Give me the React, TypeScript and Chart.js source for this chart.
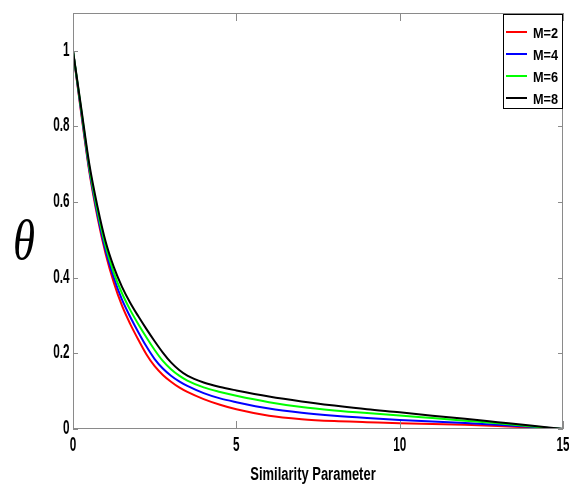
import React, { useEffect, useRef } from "react";
import { Chart, registerables } from "chart.js";

Chart.register(...registerables);

const X_VALUES = [0, 0.25, 0.5, 0.75, 1, 1.25, 1.5, 1.75, 2, 2.25, 2.5, 2.75, 3, 3.25, 3.5, 4, 4.5, 5, 6, 7, 8, 9, 10, 11, 12, 13, 14, 15];
const M2 = [1, 0.835, 0.68, 0.56, 0.463, 0.387, 0.326, 0.278, 0.236, 0.197, 0.166, 0.143, 0.125, 0.11, 0.098, 0.079, 0.064, 0.052, 0.035, 0.026, 0.021, 0.018, 0.015, 0.013, 0.011, 0.008, 0.004, 0];
const M4 = [1, 0.84, 0.685, 0.567, 0.472, 0.4, 0.342, 0.297, 0.256, 0.218, 0.185, 0.16, 0.141, 0.126, 0.114, 0.095, 0.081, 0.071, 0.054, 0.043, 0.035, 0.029, 0.024, 0.02, 0.016, 0.011, 0.006, 0];
const M6 = [1, 0.845, 0.692, 0.577, 0.483, 0.413, 0.359, 0.315, 0.277, 0.242, 0.209, 0.18, 0.158, 0.141, 0.128, 0.11, 0.098, 0.088, 0.071, 0.058, 0.049, 0.042, 0.036, 0.029, 0.022, 0.015, 0.007, 0];
const M8 = [1, 0.85, 0.7, 0.588, 0.495, 0.428, 0.376, 0.334, 0.298, 0.264, 0.232, 0.202, 0.176, 0.156, 0.141, 0.123, 0.111, 0.102, 0.086, 0.073, 0.062, 0.052, 0.044, 0.035, 0.027, 0.018, 0.009, 0];

const SERIES_LABELS = ["M=2", "M=4", "M=6", "M=8"];
const SERIES_COLORS = ["#ff0000", "#0000ff", "#00ff00", "#000000"];
const X_TICKS = [0, 5, 10, 15];
const Y_TICKS = [0, 0.2, 0.4, 0.6, 0.8, 1];
const X_TITLE = "Similarity Parameter";
const Y_TITLE = "θ";

const W = 569;
const H = 486;

const fmt = (v: number) => String(Number(v.toFixed(1)));

const decorPlugin = {
  id: "decor",
  afterDraw(chart: any) {
    const ctx: CanvasRenderingContext2D = chart.ctx;
    const { left, right, top, bottom } = chart.chartArea;
    const xs = chart.scales.x;
    const ys = chart.scales.y;
    ctx.save();
    // frame
    ctx.strokeStyle = "#8a8a8a";
    ctx.lineWidth = 1;
    ctx.strokeRect(left + 0.5, top + 0.5, right - left - 1, bottom - top - 1);
    // inside ticks
    ctx.beginPath();
    xs.ticks.forEach((t: any) => {
      const px = Math.round(xs.getPixelForValue(t.value)) + 0.5;
      ctx.moveTo(px, bottom);
      ctx.lineTo(px, bottom - 8);
      ctx.moveTo(px, top);
      ctx.lineTo(px, top + 8);
    });
    ys.ticks.forEach((t: any) => {
      const py = Math.round(ys.getPixelForValue(t.value)) + 0.5;
      ctx.moveTo(left, py);
      ctx.lineTo(left + 5, py);
      ctx.moveTo(right, py);
      ctx.lineTo(right - 5, py);
    });
    ctx.stroke();

    // tick labels (condensed bold)
    ctx.fillStyle = "#000";
    ctx.font = "bold 21px 'Liberation Sans', Arial, sans-serif";
    const sx = 0.56;
    ys.ticks.forEach((t: any) => {
      const py = ys.getPixelForValue(t.value);
      ctx.save();
      ctx.translate(69.5, py - 1);
      ctx.scale(sx, 1);
      ctx.textAlign = "right";
      ctx.textBaseline = "middle";
      ctx.fillText(fmt(t.value), 0, 0);
      ctx.restore();
    });
    xs.ticks.forEach((t: any) => {
      const px = xs.getPixelForValue(t.value);
      ctx.save();
      ctx.translate(px, 445);
      ctx.scale(sx, 1);
      ctx.textAlign = "center";
      ctx.textBaseline = "middle";
      ctx.fillText(fmt(t.value), 0, 0);
      ctx.restore();
    });

    // x title
    ctx.save();
    ctx.font = "bold 18px 'Liberation Sans', Arial, sans-serif";
    ctx.translate((left + right) / 2 - 5, 480);
    ctx.scale(0.72, 1);
    ctx.textAlign = "center";
    ctx.textBaseline = "alphabetic";
    ctx.fillText(X_TITLE, 0, 0);
    ctx.restore();

    // y title
    ctx.save();
    ctx.font = "italic 56px 'Liberation Serif', 'Times New Roman', serif";
    ctx.translate(24, 259);
    ctx.scale(0.8, 1);
    ctx.textAlign = "center";
    ctx.textBaseline = "alphabetic";
    ctx.fillText(Y_TITLE, 0, 0);
    ctx.restore();

    // legend
    const bx = 503, by = 14, bw = right - 503, bh = 95;
    ctx.fillStyle = "#fff";
    ctx.fillRect(bx, by, bw, bh);
    ctx.strokeStyle = "#000";
    ctx.lineWidth = 1;
    ctx.strokeRect(bx + 0.5, by + 0.5, bw - 1, bh - 1);
    chart.data.datasets.forEach((ds: any, i: number) => {
      const cy = 32 + i * 22;
      ctx.strokeStyle = ds.borderColor;
      ctx.lineWidth = 2;
      ctx.beginPath();
      ctx.moveTo(506, cy);
      ctx.lineTo(527, cy);
      ctx.stroke();
      ctx.save();
      ctx.fillStyle = "#000";
      ctx.font = "bold 15px 'Liberation Sans', Arial, sans-serif";
      ctx.translate(533, cy + 5.5);
      ctx.scale(0.85, 1);
      ctx.textAlign = "left";
      ctx.textBaseline = "alphabetic";
      ctx.fillText(ds.label, 0, 0);
      ctx.restore();
    });
    ctx.restore();
  },
};

export default function App() {
  const ref = useRef<HTMLCanvasElement | null>(null);
  useEffect(() => {
    if (!ref.current) return;
    const series = [M2, M4, M6, M8];
    const chart = new Chart(ref.current, {
      type: "line",
      data: {
        datasets: series.map((vals, i) => ({
          label: SERIES_LABELS[i],
          data: X_VALUES.map((x, j) => ({ x, y: vals[j] })),
          borderColor: SERIES_COLORS[i],
          backgroundColor: SERIES_COLORS[i],
          borderWidth: 2,
          pointRadius: 0,
          cubicInterpolationMode: "monotone" as const,
          fill: false,
          order: 4 - i,
        })),
      },
      options: {
        responsive: false,
        animation: false,
        devicePixelRatio: 1,
        layout: { padding: { left: 73, right: 6, top: 13, bottom: 57 } },
        plugins: { legend: { display: false }, tooltip: { enabled: false } },
        scales: {
          x: {
            type: "linear",
            min: 0,
            max: 15,
            grid: { display: false },
            border: { display: false },
            ticks: { display: false },
            afterBuildTicks: (s: any) => {
              s.ticks = X_TICKS.map((v) => ({ value: v }));
            },
            afterFit: (s: any) => {
              s.height = 0;
            },
          },
          y: {
            type: "linear",
            min: 0,
            max: 1.1,
            grid: { display: false },
            border: { display: false },
            ticks: { display: false },
            afterBuildTicks: (s: any) => {
              s.ticks = Y_TICKS.map((v) => ({ value: v }));
            },
            afterFit: (s: any) => {
              s.width = 0;
            },
          },
        },
      },
      plugins: [decorPlugin],
    });
    return () => chart.destroy();
  }, []);
  return (
    <div style={{ position: "absolute", left: 0, top: 0, width: W, height: H, background: "#fff" }}>
      <canvas ref={ref} width={W} height={H} style={{ width: W, height: H, display: "block" }} />
    </div>
  );
}
